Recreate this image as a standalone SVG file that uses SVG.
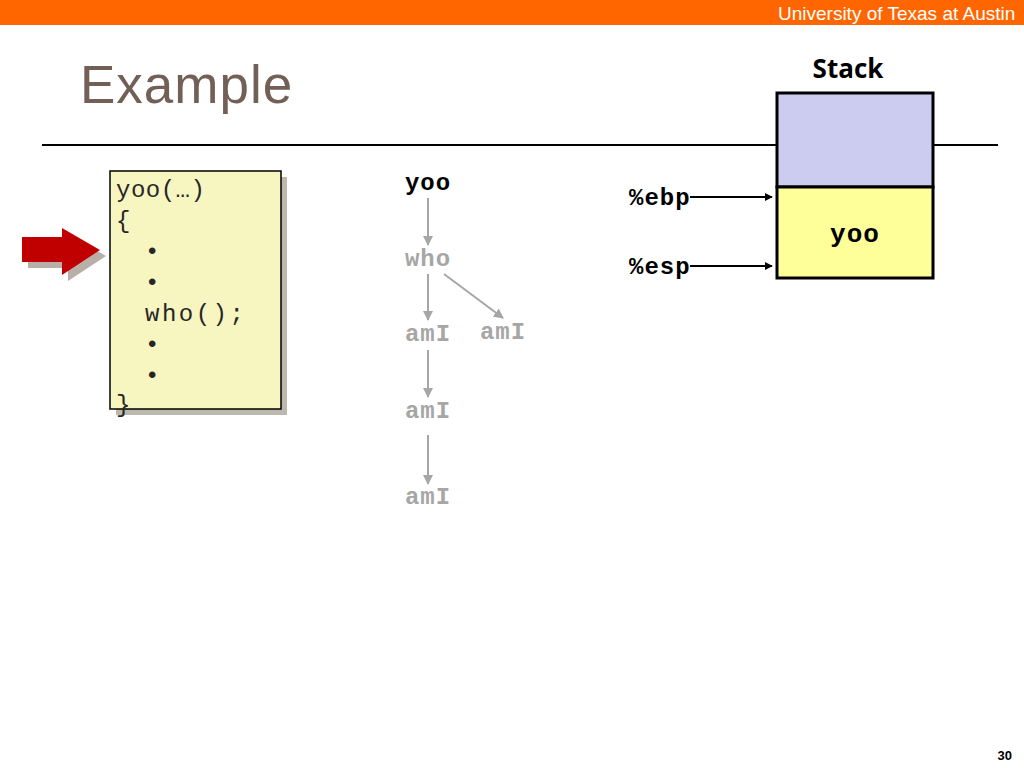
<svg xmlns="http://www.w3.org/2000/svg" width="1024" height="768" viewBox="0 0 1024 768">
<style>
.mono{font-family:"Liberation Mono","Courier New",monospace;}
.bold{font-weight:bold;}
.tree{font-family:"Liberation Mono",monospace;font-weight:bold;font-size:24px;letter-spacing:1px;fill:#a6a6a6;text-anchor:middle;}
.code{font-family:"Liberation Mono",monospace;font-size:24px;letter-spacing:2.5px;fill:#262626;}
.garrow{stroke:#a6a6a6;stroke-width:2;fill:none;}
.barrow{stroke:#000;stroke-width:2;fill:none;}
</style>
<defs>
<marker id="gh" viewBox="0 0 10 10" refX="9" refY="5" markerWidth="5" markerHeight="5" orient="auto"><path d="M0,0 L10,5 L0,10 z" fill="#a6a6a6"/></marker>
<marker id="bh" viewBox="0 0 10 10" refX="9" refY="5" markerWidth="4" markerHeight="4" orient="auto"><path d="M0,0 L10,5 L0,10 z" fill="#000"/></marker>
</defs>
<rect x="0" y="0" width="1024" height="768" fill="#ffffff"/>
<g id="header">
<rect x="0" y="0" width="1024" height="25" fill="#ff6600"/>
<text x="778" y="20" font-family="Liberation Sans, Arial, sans-serif" font-size="19" fill="#ffffff">University of Texas at Austin</text>
</g>
<g id="title">
<text x="80" y="103" font-family="Liberation Sans, Arial, sans-serif" font-size="53" letter-spacing="1" fill="#725f55">Example</text>
</g>
<line x1="42" y1="145" x2="998" y2="145" stroke="#000" stroke-width="2"/>
<g id="red-arrow">
<path d="M28,243 L68,243 L68,234 L106,256 L68,281 L68,268 L28,268 z" fill="#b8b0a8"/>
<path d="M22,237 L62,237 L62,228 L100,250 L62,275 L62,262 L22,262 z" fill="#c00000"/>
</g>
<g id="code-box">
<rect x="116" y="177" width="171" height="238" fill="#bdb8ae"/>
<rect x="110" y="171" width="171" height="238" fill="#f7f5c0" stroke="#000" stroke-width="1.5"/>
<text class="code" x="116" y="197" style="letter-spacing:0.5px">yoo(…)</text>
<text class="code" x="116" y="228">{</text>
<text class="code" x="145" y="259">•</text>
<text class="code" x="145" y="290">•</text>
<text class="code" x="145" y="321">who();</text>
<text class="code" x="145" y="352">•</text>
<text class="code" x="145" y="383">•</text>
<text class="code" x="116" y="412">}</text>
</g>
<g id="connectors">
<line class="garrow" x1="428" y1="198" x2="428" y2="245" marker-end="url(#gh)"/>
<line class="garrow" x1="428" y1="274" x2="428" y2="320" marker-end="url(#gh)"/>
<line class="garrow" x1="444" y1="274" x2="503" y2="318" marker-end="url(#gh)"/>
<line class="garrow" x1="428" y1="350" x2="428" y2="397" marker-end="url(#gh)"/>
<line class="garrow" x1="428" y1="435" x2="428" y2="484" marker-end="url(#gh)"/>
<line class="barrow" x1="690" y1="197" x2="772" y2="197" marker-end="url(#bh)"/>
<line class="barrow" x1="690" y1="266" x2="772" y2="266" marker-end="url(#bh)"/>
</g>
<g id="node-yoo"><text class="tree" x="428" y="190" style="fill:#000">yoo</text></g>
<g id="node-who"><text class="tree" x="428" y="266">who</text></g>
<g id="node-amI-1"><text class="tree" x="428" y="341">amI</text></g>
<g id="node-amI-2"><text class="tree" x="503" y="339">amI</text></g>
<g id="node-amI-3"><text class="tree" x="428" y="418">amI</text></g>
<g id="node-amI-4"><text class="tree" x="428" y="504">amI</text></g>
<g id="stack">
<text x="848" y="78" font-family="Open Sans, Liberation Sans, sans-serif" font-weight="bold" font-size="26" text-anchor="middle" fill="#000">Stack</text>
<rect x="777" y="93" width="156" height="94" fill="#ccccf0" stroke="#000" stroke-width="3"/>
<rect x="777" y="187" width="156" height="91" fill="#ffff99" stroke="#000" stroke-width="3"/>
<text class="mono bold" x="855" y="242" font-size="26" letter-spacing="1" text-anchor="middle" fill="#000">yoo</text>
</g>
<g id="reg-ebp"><text class="mono bold" x="629" y="205" font-size="24" letter-spacing="1" fill="#000">%ebp</text></g>
<g id="reg-esp"><text class="mono bold" x="629" y="274" font-size="24" letter-spacing="1" fill="#000">%esp</text></g>
<g id="page"><text x="1012" y="760" font-family="Liberation Sans, Arial, sans-serif" font-weight="bold" font-size="13" text-anchor="end" fill="#000">30</text></g>
</svg>
